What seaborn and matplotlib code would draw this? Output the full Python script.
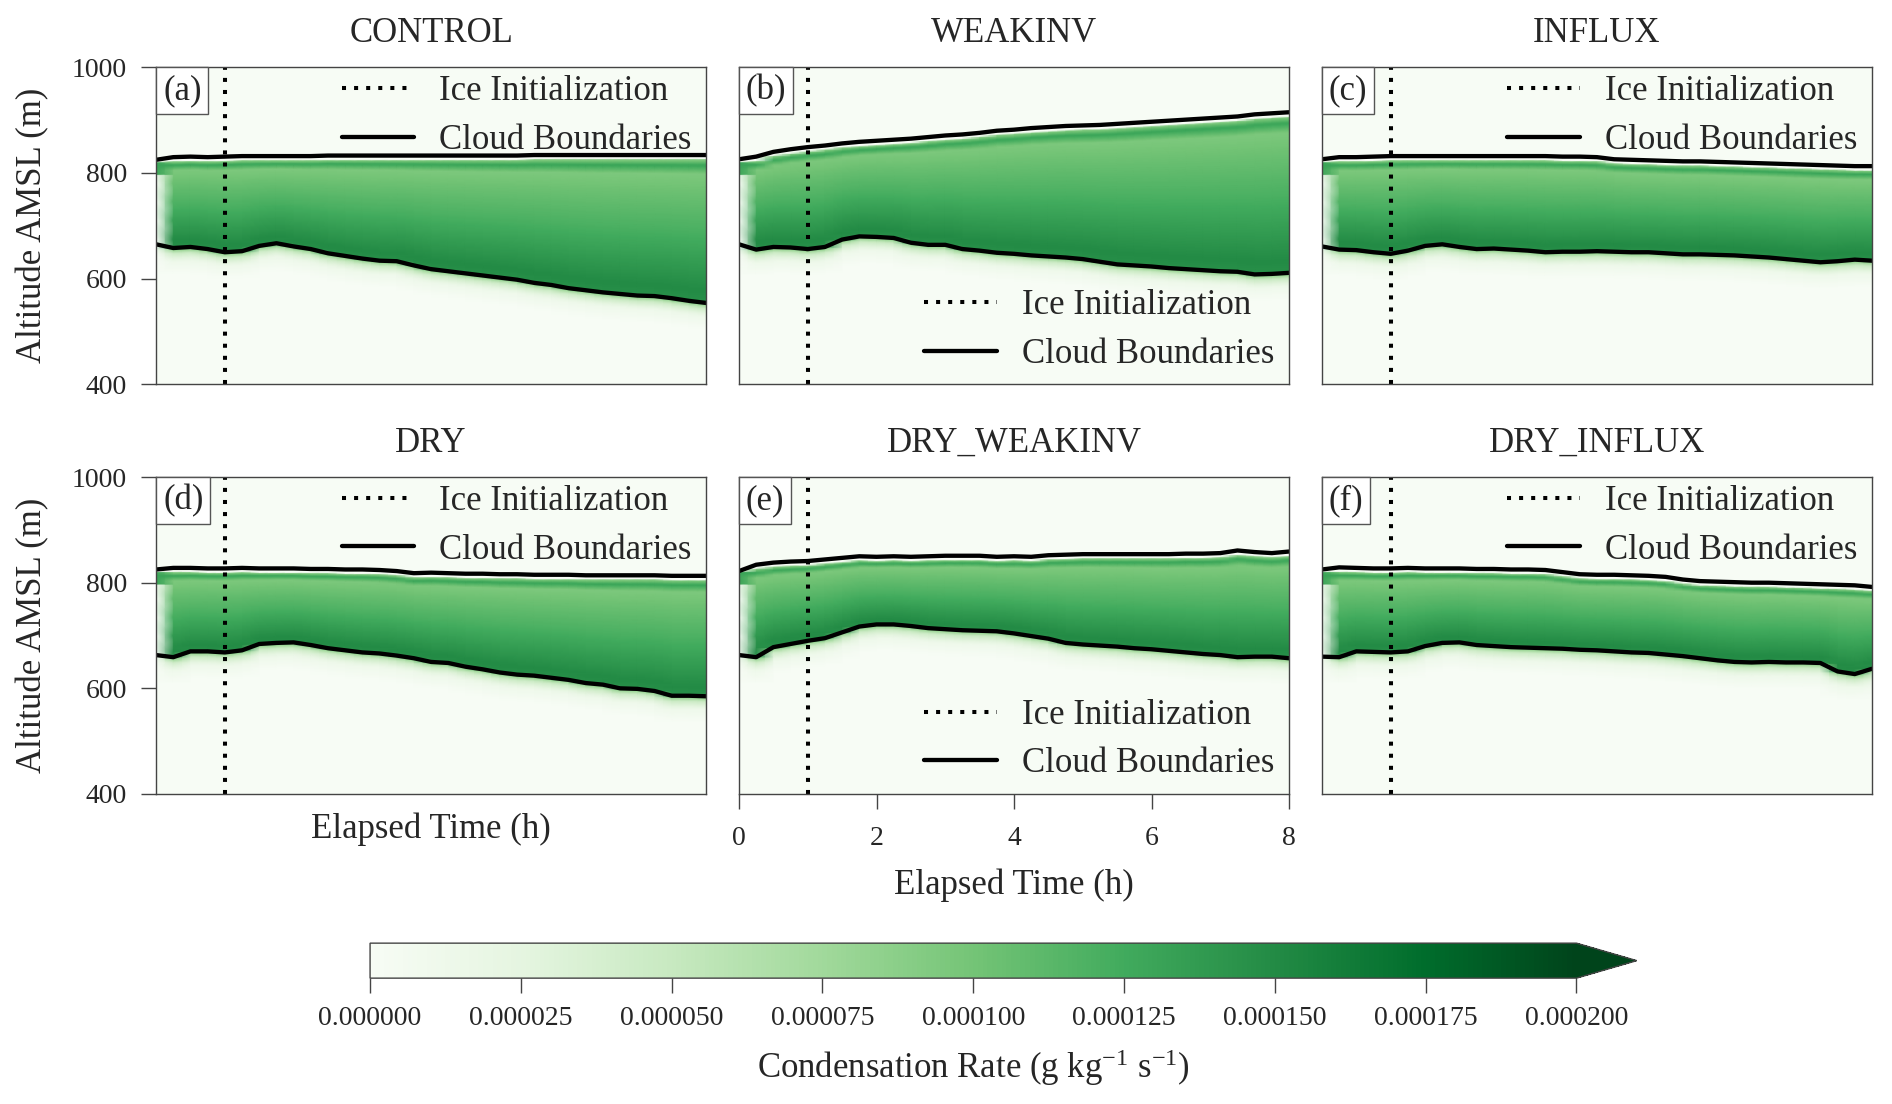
import numpy as np
import matplotlib
matplotlib.use("Agg")
import matplotlib.pyplot as plt
from matplotlib.lines import Line2D
from matplotlib.offsetbox import AnchoredText
import seaborn as sns

# ---------------- data ----------------
TIME_H = [0.0, 0.25, 0.5, 0.75, 1.0, 1.25, 1.5, 1.75, 2.0, 2.25, 2.5, 2.75,
          3.0, 3.25, 3.5, 3.75, 4.0, 4.25, 4.5, 4.75, 5.0, 5.25, 5.5, 5.75,
          6.0, 6.25, 6.5, 6.75, 7.0, 7.25, 7.5, 7.75, 8.0]

PANEL_TITLES = ["CONTROL", "WEAKINV", "INFLUX", "DRY", "DRY_WEAKINV", "DRY_INFLUX"]
PANEL_LETTERS = ["(a)", "(b)", "(c)", "(d)", "(e)", "(f)"]
ICE_INIT_H = 1.0

# cloud top / cloud base (m AMSL)
TOP_CONTROL = [825, 830, 831, 830, 831, 832, 832, 832, 832, 832, 833, 833, 833, 833, 833, 833, 833,
               833, 833, 833, 833, 833, 834, 834, 834, 834, 834, 834, 834, 834, 834, 834, 834]
BASE_CONTROL = [665, 658, 660, 656, 650, 652, 662, 667, 661, 656, 648, 643, 638, 634, 633, 625, 618,
                614, 610, 606, 602, 598, 592, 588, 582, 578, 574, 571, 568, 567, 563, 558, 554]

TOP_WEAKINV = [826, 831, 840, 845, 849, 852, 856, 859, 861, 863, 865, 868, 871, 873, 876, 880, 882,
               885, 887, 889, 890, 891, 893, 895, 897, 899, 901, 903, 905, 907, 911, 913, 915]
BASE_WEAKINV = [665, 655, 660, 659, 656, 660, 674, 680, 679, 677, 668, 664, 664, 656, 653, 649, 647,
                644, 642, 640, 637, 632, 627, 625, 623, 620, 618, 616, 614, 613, 608, 609, 611]

TOP_INFLUX = [826, 830, 830, 831, 832, 832, 832, 832, 832, 832, 832, 832, 832, 832, 831, 831, 830,
              826, 825, 824, 823, 822, 822, 821, 820, 819, 818, 817, 816, 815, 814, 813, 813]
BASE_INFLUX = [661, 655, 654, 650, 647, 653, 662, 665, 660, 656, 657, 655, 653, 650, 651, 651, 652,
               651, 650, 650, 648, 646, 646, 645, 644, 642, 640, 637, 634, 631, 633, 636, 634]

TOP_DRY = [825, 828, 828, 827, 827, 828, 827, 827, 827, 826, 826, 825, 825, 824, 822, 818, 819,
           818, 817, 817, 816, 816, 815, 815, 815, 814, 814, 814, 814, 814, 813, 813, 813]
BASE_DRY = [663, 659, 670, 670, 668, 672, 684, 686, 687, 682, 676, 672, 668, 666, 662, 657, 650,
            648, 641, 636, 630, 626, 624, 620, 616, 610, 607, 600, 599, 595, 586, 586, 585]

TOP_DRY_WEAKINV = [822, 834, 838, 840, 841, 844, 847, 850, 849, 850, 849, 850, 851, 851, 851, 849, 850,
                   849, 852, 853, 854, 854, 854, 854, 854, 854, 855, 855, 856, 861, 858, 856, 859]
BASE_DRY_WEAKINV = [663, 659, 678, 684, 690, 695, 706, 717, 721, 721, 718, 714, 712, 710, 709, 708, 704,
                    699, 694, 686, 683, 681, 679, 676, 674, 671, 668, 665, 663, 659, 660, 660, 657]

TOP_DRY_INFLUX = [825, 829, 828, 827, 827, 828, 827, 827, 827, 826, 826, 825, 825, 824, 820, 816, 815,
                  815, 814, 813, 811, 806, 803, 802, 801, 800, 800, 799, 798, 797, 796, 795, 792]
BASE_DRY_INFLUX = [660, 659, 670, 669, 668, 670, 680, 686, 687, 682, 680, 678, 677, 676, 675, 673, 672,
                   670, 668, 667, 664, 661, 657, 653, 650, 649, 650, 649, 649, 648, 632, 627, 637]

TOPS = [TOP_CONTROL, TOP_WEAKINV, TOP_INFLUX, TOP_DRY, TOP_DRY_WEAKINV, TOP_DRY_INFLUX]
BASES = [BASE_CONTROL, BASE_WEAKINV, BASE_INFLUX, BASE_DRY, BASE_DRY_WEAKINV, BASE_DRY_INFLUX]

# condensation-rate profile inside the cloud (0 = base, 1 = top of condensing layer)
PROFILE_S = [0.0, 0.08, 0.25, 0.5, 0.75, 0.9, 0.96, 1.0]
PROFILE_RATE = [1.45e-4, 1.5e-4, 1.38e-4, 1.2e-4, 1.05e-4, 0.95e-4, 1.3e-4, 0.9e-4]
# fading condensation just below cloud base (depth below base in m)
FADE_DEPTH = [0, 10, 25, 50]
FADE_RATE = [1.0e-4, 0.45e-4, 0.12e-4, 0.0]
TOP_GAP_M = 8            # condensing layer sits just below the cloud-top line
INIT_LAYER = [798, 820]  # thin initial layer at t = 0
INIT_RATE = 1.3e-4

CB_TICKS = [0.0, 0.000025, 0.00005, 0.000075, 0.0001, 0.000125, 0.00015, 0.000175, 0.0002]
X_TICKS = [0, 2, 4, 6, 8]
Y_TICKS = [400, 600, 800, 1000]
ALT_GRID = np.arange(400, 1001, 2)


def build_field(top, base):
    field = np.zeros((len(ALT_GRID), len(TIME_H)))
    for i, (tp, bs) in enumerate(zip(top, base)):
        if i == 0:
            inside = (ALT_GRID >= INIT_LAYER[0]) & (ALT_GRID <= INIT_LAYER[1])
            field[inside, i] = INIT_RATE
            continue
        ctop = tp - TOP_GAP_M
        s = (ALT_GRID - bs) / (ctop - bs)
        inside = (s >= 0) & (s <= 1)
        field[inside, i] = np.interp(s[inside], PROFILE_S, PROFILE_RATE)
        below = ALT_GRID < bs
        field[below, i] = np.interp(bs - ALT_GRID[below], FADE_DEPTH, FADE_RATE)
    return field


# ---------------- style ----------------
sns.set_theme(style="ticks")
plt.rcParams["font.family"] = ["Liberation Serif", "DejaVu Serif"]
plt.rcParams["mathtext.fontset"] = "custom"
plt.rcParams["mathtext.rm"] = "Liberation Serif"
plt.rcParams["mathtext.it"] = "Liberation Serif:italic"
plt.rcParams["axes.edgecolor"] = "#444444"
plt.rcParams["axes.linewidth"] = 1.0

cmap = sns.color_palette("Greens", as_cmap=True)

fig = plt.figure(figsize=(18.92, 11.04), dpi=100)

col_left = [0.0825, 0.3906, 0.6987]
row_bottom = [0.6519, 0.2808]
ax_w, ax_h = 0.2907, 0.2871

LINE_W = 3.1
DOT_W = 2.9
DOT_STYLE = (0, (1, 2))

mesh = None
for k in range(6):
    r, c = divmod(k, 3)
    ax = fig.add_axes([col_left[c], row_bottom[r], ax_w, ax_h])
    field = build_field(TOPS[k], BASES[k])
    mesh = ax.pcolormesh(TIME_H, ALT_GRID, field, shading="gouraud", cmap=cmap,
                         vmin=0, vmax=2e-4, rasterized=True)
    sns.lineplot(x=TIME_H, y=TOPS[k], ax=ax, color="black", lw=LINE_W, legend=False)
    sns.lineplot(x=TIME_H, y=BASES[k], ax=ax, color="black", lw=LINE_W, legend=False)
    ax.axvline(ICE_INIT_H, color="black", lw=DOT_W, linestyle=DOT_STYLE)
    ax.set_xlim(0, 8)
    ax.set_ylim(400, 1000)
    for sp in ax.spines.values():
        sp.set_visible(True)
        sp.set_color("#444444")
        sp.set_linewidth(1.0)
    ax.set_title(PANEL_TITLES[k], fontsize=25, pad=18)

    handles = [Line2D([], [], color="black", lw=DOT_W, linestyle=DOT_STYLE),
               Line2D([], [], color="black", lw=LINE_W)]
    labels = ["Ice Initialization", "Cloud Boundaries"]
    if c == 1:
        ax.legend(handles, labels, loc="lower right", bbox_to_anchor=(0.974, 0.043),
                  frameon=False, fontsize=25, borderaxespad=0, borderpad=0,
                  handlelength=2.1, handletextpad=0.72, labelspacing=0.45)
    else:
        ax.legend(handles, labels, loc="upper right", bbox_to_anchor=(0.974, 0.975),
                  frameon=False, fontsize=25, borderaxespad=0, borderpad=0,
                  handlelength=2.1, handletextpad=0.72, labelspacing=0.45)

    at = AnchoredText(PANEL_LETTERS[k], loc="upper left", borderpad=0, pad=0.2,
                      prop=dict(size=25), frameon=True)
    at.patch.set_edgecolor("#555555")
    at.patch.set_linewidth(1.0)
    ax.add_artist(at)

    ax.tick_params(axis="both", labelsize=20, length=11, width=1.0,
                   color="#444444", pad=10, direction="out")
    if c == 0:
        ax.set_yticks(Y_TICKS)
        ax.set_ylabel("Altitude AMSL (m)", fontsize=25, labelpad=16)
    else:
        ax.set_yticks([])
        ax.set_ylabel("")
    if k == 4:
        ax.set_xticks(X_TICKS)
        ax.tick_params(axis="x", pad=12)
        ax.set_xlabel("Elapsed Time (h)", fontsize=25, labelpad=13)
    elif k == 3:
        ax.set_xticks([])
        ax.set_xlabel("Elapsed Time (h)", fontsize=25, labelpad=13)
    else:
        ax.set_xticks([])
        ax.set_xlabel("")

cax = fig.add_axes([0.1956, 0.1140, 0.6695, 0.0317])
cb = fig.colorbar(mesh, cax=cax, orientation="horizontal", extend="max",
                  ticks=CB_TICKS, format="%.6f")
cb.outline.set_edgecolor("#444444")
cb.outline.set_linewidth(1.0)
cax.tick_params(labelsize=20, length=11, width=1.0, color="#444444", pad=9)
cb.set_label(r"Condensation Rate (g kg$^{-1}$ s$^{-1}$)", fontsize=25, labelpad=12)

fig.savefig("out.png", dpi=100)
